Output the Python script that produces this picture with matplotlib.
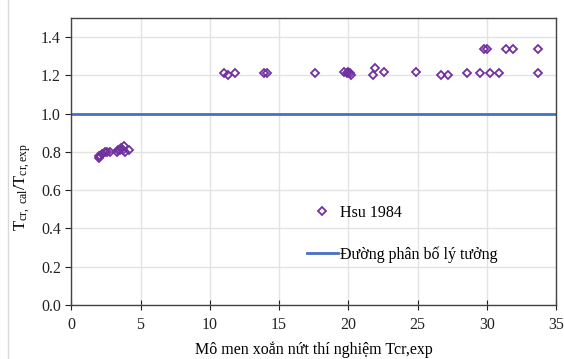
import matplotlib
matplotlib.use("Agg")
import matplotlib.pyplot as plt
from matplotlib.lines import Line2D

plt.rcParams['font.family'] = ['Liberation Serif', 'DejaVu Serif']
plt.rcParams['mathtext.fontset'] = 'custom'
plt.rcParams['mathtext.rm'] = 'Liberation Serif'
plt.rcParams['mathtext.it'] = 'Liberation Serif'

# Hsu 1984 data: experimental cracking torque vs ratio calc/exp
x_hsu = [2.0, 2.1, 2.2, 2.4, 2.6, 2.8, 2.0, 3.3, 3.4, 3.5, 3.6, 3.7, 3.8, 3.9, 4.2,
         11.0, 11.3, 11.8, 13.9, 14.1, 17.6, 19.7, 19.9, 20.0, 20.1, 20.2,
         21.8, 21.9, 22.6, 24.9, 26.7, 27.2, 28.6, 29.5, 30.2, 30.9, 33.7,
         29.8, 30.0, 31.4, 31.9, 33.7]
y_hsu = [0.77, 0.78, 0.79, 0.80, 0.80, 0.80, 0.78, 0.80, 0.81, 0.81, 0.82, 0.81, 0.83, 0.80, 0.81,
         1.21, 1.20, 1.21, 1.21, 1.21, 1.21, 1.22, 1.21, 1.22, 1.21, 1.20,
         1.20, 1.24, 1.22, 1.22, 1.20, 1.20, 1.21, 1.21, 1.21, 1.21, 1.21,
         1.34, 1.34, 1.34, 1.34, 1.34]
ideal_x = [0, 35]
ideal_y = [1.0, 1.0]

fig = plt.figure(figsize=(5.64, 3.59), dpi=100)
ax = fig.add_axes([0.1264, 0.1504, 0.8594, 0.7995])

ax.grid(True, color='#e3e3e3', lw=1.0, zorder=0)
ax.set_axisbelow(True)
ax.plot(x_hsu, y_hsu, linestyle='none', marker='D', markersize=4.2,
        markerfacecolor='none', markeredgecolor='#7030A0', markeredgewidth=1.3,
        label='Hsu 1984', zorder=3)
ax.plot(ideal_x, ideal_y, color='#4472C4', lw=2, label='Đường phân bố lý tưởng', zorder=2)

ax.set_xlim(0, 35)
ax.set_ylim(0, 1.5)
ax.set_xticks(range(0, 36, 5))
ax.set_yticks([0.0, 0.2, 0.4, 0.6, 0.8, 1.0, 1.2, 1.4])
ax.set_yticklabels([f'{v:.1f}' for v in [0.0, 0.2, 0.4, 0.6, 0.8, 1.0, 1.2, 1.4]])
ax.tick_params(axis='both', labelsize=11.5, colors='#222222', length=4, width=0.8)
ax.tick_params(axis='x', direction='inout', length=7, pad=5)
for s in ax.spines.values():
    s.set_color('#444444')
    s.set_linewidth(1.0)

ax.set_xlabel('Mô men xoắn nứt thí nghiệm Tcr,exp', fontsize=11.5, labelpad=6)
ax.set_ylabel(r'$\mathrm{T_{cr,\ cal}/T_{cr,exp}}$', fontsize=12)
ax.yaxis.set_label_coords(-0.078, 0.41)

leg = ax.legend(loc='upper left', bbox_to_anchor=(0.457, 0.40), frameon=False,
                fontsize=11.5, labelspacing=1.6, handlelength=1.9, handletextpad=0.15)

fig.add_artist(Line2D([8/564, 8/564], [0, 1], color='#d9d9d9', lw=1, transform=fig.transFigure))

fig.savefig('out.png', dpi=100)
